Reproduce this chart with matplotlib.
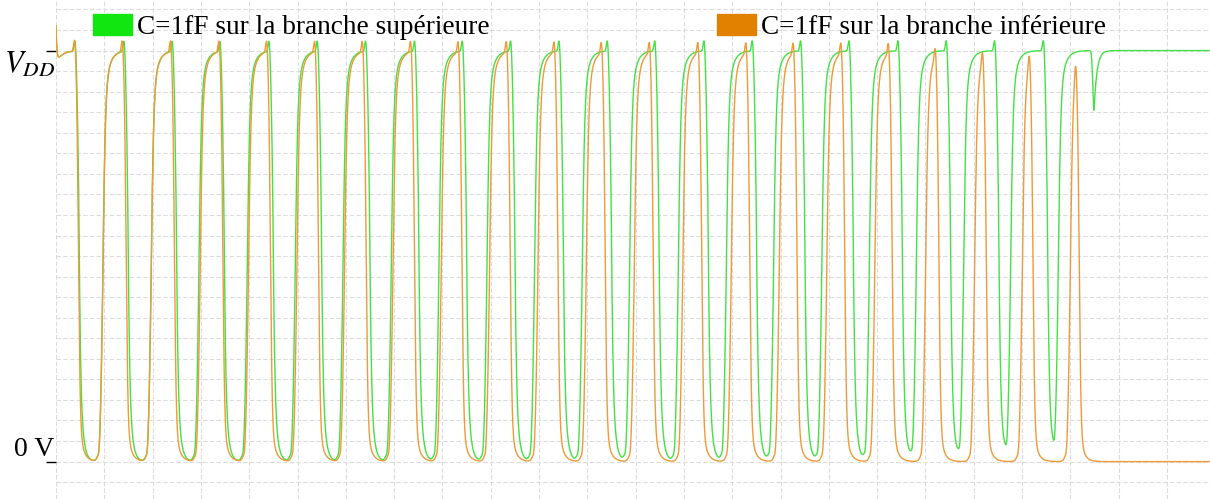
import numpy as np
import matplotlib.pyplot as plt
from matplotlib.patches import Patch
from matplotlib.ticker import MultipleLocator

plt.rcParams['font.family'] = ['Liberation Serif', 'DejaVu Serif']
plt.rcParams['mathtext.fontset'] = 'stix'

# Temps des transitions (mi-hauteur), en divisions de la grille
vert_falls = [0.470, 1.484, 2.484, 3.472, 4.487, 5.487, 6.487, 7.501, 8.489, 9.489, 10.491,
              11.491, 12.474, 13.493, 14.493, 15.493, 16.495, 17.509, 18.509, 19.509, 20.518]
vert_rises = [0.967, 1.967, 2.954, 3.954, 4.948, 5.936, 6.936, 7.923, 8.917, 9.903, 10.890,
              11.870, 12.878, 13.872, 14.851, 15.849, 16.832, 17.805, 18.785, 19.758, 20.745]
orange_falls = [0.462, 1.449, 2.449, 3.451, 4.437, 5.431, 6.418, 7.418, 8.400, 9.400, 10.387,
                11.366, 12.360, 13.364, 14.358, 15.337, 16.325, 17.308, 18.275, 19.255, 20.222, 21.180]
orange_rises = [0.967, 1.967, 2.981, 3.981, 4.983, 5.969, 6.971, 7.971, 8.971, 9.973, 10.973,
                11.967, 12.971, 13.975, 14.969, 15.952, 16.946, 17.998, 19.012, 20.000, 20.994]
# glitch final sur la branche supérieure
vert_glitch_time = 21.49
vert_glitch_depth = 0.145

labels = ['C=1fF sur la branche supérieure', 'C=1fF sur la branche inférieure']

t = np.linspace(0, 23.9, 24000)


def step(u, w, frac, tau):
    main = 1.0 / (1.0 + np.exp(-np.clip(u / w, -60, 60)))
    tail = np.where(u > 0, 1.0 - np.exp(-np.clip(u, 0, None) / tau), 0.0)
    return (1 - frac) * main + frac * tail


def waveform(falls, rises, fall_shape, rise_shape):
    v = np.ones_like(t)
    # transitoire de départ
    v += 0.09 * np.exp(-t / 0.017) - 0.03 * np.exp(-t / 0.12)
    for c in falls:
        v -= step(t - c, *fall_shape)
        v += 0.042 * np.exp(-((t - c + 0.072) ** 2) / (2 * 0.022 ** 2))
    for c in rises:
        v += step(t - c, *rise_shape)
        v -= 0.017 * np.exp(-((t - c + 0.072) ** 2) / (2 * 0.02 ** 2))
    return v


v_vert = waveform(vert_falls, vert_rises, (0.021, 0.3, 0.062), (0.027, 0.15, 0.1))
u = t - vert_glitch_time
v_vert -= vert_glitch_depth * np.where(u < 0, np.exp(-u ** 2 / (2 * 0.025 ** 2)),
                                       np.exp(-np.clip(u, 0, None) / 0.06))
v_orange = waveform(orange_falls, orange_rises, (0.019, 0.1, 0.085), (0.027, 0.15, 0.1))

fig = plt.figure(figsize=(12.1, 4.99), dpi=100)
ax = fig.add_axes([56 / 1210, 0, 1154 / 1210, 1])

ax.plot(t, v_vert, color='#45e045', lw=1.0)
ax.plot(t, v_orange, color='#ee9a38', lw=1.0)

ax.set_xlim(0, 23.89)
ax.set_ylim(-0.091, 1.123)
for s in ax.spines.values():
    s.set_visible(False)

ax.xaxis.set_major_locator(MultipleLocator(1))
ax.yaxis.set_minor_locator(MultipleLocator(0.05))
ax.set_yticks([0, 1])
ax.set_yticklabels(['0 V', '$V_{DD}$'], fontsize=20)
ax.tick_params(axis='x', length=0, labelbottom=False)
ax.tick_params(axis='y', which='major', length=7.5, width=1, pad=-6.5)
ax.tick_params(axis='y', which='minor', length=0)
tl = ax.get_yticklabels()
tl[0].set_va('bottom')
tl[1].set_va('top')
tl[1].set_fontsize(22)
ax.grid(which='both', color='#dcdcdc', lw=0.8, ls=(0, (4, 2)))
ax.set_axisbelow(True)

handles = [Patch(color='#11e611'), Patch(color='#e08200')]
ax.legend(handles, labels, ncol=2, loc='upper left', bbox_to_anchor=(37 / 1154, 0.971),
          frameon=False, fontsize=19.6, handlelength=1.42, handleheight=0.77,
          handletextpad=0.2, columnspacing=8.35, borderpad=0, borderaxespad=0)

plt.savefig('out.png', dpi=100)
